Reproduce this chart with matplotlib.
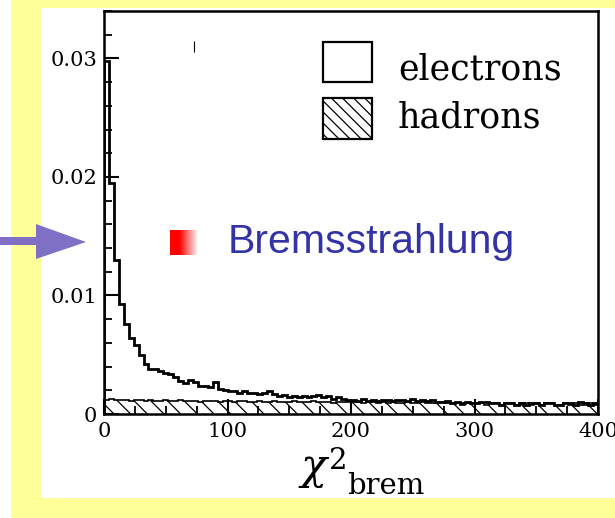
import matplotlib
matplotlib.use('Agg')
import matplotlib.pyplot as plt
import numpy as np
from matplotlib.patches import Rectangle, Polygon

# histogram binning (chi2_brem from 0 to 400, 100 bins)
edges = np.linspace(0, 400, 101)

# electrons (open histogram)
electrons = [0.0298, 0.0195, 0.0130, 0.0093, 0.0076, 0.0064, 0.0058, 0.0050, 0.0042, 0.0038,
             0.0038, 0.0036, 0.0035, 0.0034, 0.0031, 0.0028, 0.0026, 0.0029, 0.0027, 0.0024,
             0.0024, 0.0023, 0.0027, 0.0021, 0.0020, 0.0019, 0.0019, 0.0018, 0.0019, 0.0018,
             0.0018, 0.0017, 0.0018, 0.0019, 0.0017, 0.0015, 0.0016, 0.0014, 0.0015, 0.0014,
             0.0015, 0.0014, 0.0015, 0.0016, 0.0014, 0.0015, 0.0013, 0.0014, 0.0013, 0.0012,
             0.0012, 0.0011, 0.0013, 0.0011, 0.0012, 0.0011, 0.0012, 0.0012, 0.0011, 0.0012,
             0.0012, 0.0011, 0.0013, 0.0011, 0.0012, 0.0011, 0.0012, 0.0010, 0.0010, 0.0011,
             0.0009, 0.0010, 0.0009, 0.0010, 0.0009, 0.0009, 0.0010, 0.0010, 0.0009, 0.0009,
             0.0008, 0.0009, 0.0009, 0.0008, 0.0009, 0.0008, 0.0009, 0.0009, 0.0008, 0.0009,
             0.0009, 0.0008, 0.0008, 0.0009, 0.0009, 0.0008, 0.0010, 0.0009, 0.0008, 0.0009]

# hadrons (hatched histogram)
hadrons = [0.0012, 0.0013, 0.0012, 0.0012, 0.0012, 0.0011, 0.0012, 0.0012, 0.0011, 0.0012,
           0.0011, 0.0011, 0.0012, 0.0011, 0.0011, 0.0012, 0.0011, 0.0011, 0.0011, 0.0010,
           0.0011, 0.0011, 0.0011, 0.0010, 0.0011, 0.0011, 0.0010, 0.0011, 0.0011, 0.0010,
           0.0010, 0.0011, 0.0010, 0.0010, 0.0011, 0.0010, 0.0010, 0.0010, 0.0011, 0.0010,
           0.0010, 0.0010, 0.0011, 0.0010, 0.0010, 0.0010, 0.0009, 0.0010, 0.0010, 0.0010,
           0.0010, 0.0010, 0.0009, 0.0010, 0.0010, 0.0009, 0.0010, 0.0009, 0.0010, 0.0009,
           0.0009, 0.0010, 0.0009, 0.0009, 0.0010, 0.0009, 0.0009, 0.0009, 0.0010, 0.0009,
           0.0009, 0.0009, 0.0008, 0.0009, 0.0009, 0.0009, 0.0009, 0.0008, 0.0009, 0.0009,
           0.0008, 0.0009, 0.0009, 0.0008, 0.0009, 0.0009, 0.0008, 0.0009, 0.0008, 0.0009,
           0.0009, 0.0008, 0.0008, 0.0009, 0.0008, 0.0009, 0.0008, 0.0008, 0.0009, 0.0008]

xticks = [0, 100, 200, 300, 400]
yticks = [0, 0.01, 0.02, 0.03]
ytick_labels = ['0', '0.01', '0.02', '0.03']
legend_labels = ['electrons', 'hadrons']
note = 'Bremsstrahlung'

W, H = 615, 518


def fx(x):
    return x / W


def fy(y):
    return 1 - y / H


plt.rcParams['hatch.linewidth'] = 0.9
plt.rcParams['mathtext.fontset'] = 'dejavuserif'

fig = plt.figure(figsize=(W / 100, H / 100), dpi=100, facecolor='#FFFF99')

# slide background: white strip on the left, white panel for the plot
fig.patches.append(Rectangle((0, 0), fx(11), 1, transform=fig.transFigure,
                             facecolor='white', edgecolor='none', zorder=-2))
fig.patches.append(Rectangle((fx(41), fy(498)), 1 - fx(41), (498 - 8) / H,
                             transform=fig.transFigure, facecolor='white',
                             edgecolor='none', zorder=-2))

ax = fig.add_axes([fx(104), fy(414), (598 - 104) / W, (414 - 11) / H])
ax.set_facecolor('white')
ax.set_zorder(1)

ax.stairs(hadrons, edges, fill=True, facecolor='white', edgecolor='black',
          hatch='\\\\', linewidth=1.2)
ax.stairs(electrons, edges, color='black', linewidth=2.0)

# small stray mark on the original
ax.vlines(72.9, 0.0305, 0.0315, color='black', linewidth=0.8)

ax.set_xlim(0, 400)
ax.set_ylim(0, 0.034)
ax.set_xticks(xticks)
ax.set_xticks(np.arange(0, 401, 25), minor=True)
ax.set_yticks(yticks)
ax.set_yticklabels(ytick_labels)
ax.set_yticks(np.arange(0, 0.0341, 0.002), minor=True)
ax.tick_params(which='both', direction='in', top=False, right=False,
               labelsize=15)
ax.tick_params(which='major', length=11, width=1.5)
ax.tick_params(which='minor', length=6, width=1.3)
ax.tick_params(axis='x', pad=6)
ax.tick_params(axis='y', pad=5)
for lab in ax.get_xticklabels() + ax.get_yticklabels():
    lab.set_family('DejaVu Serif')
for s in ax.spines.values():
    s.set_linewidth(1.8)

# legend drawn by hand
fig.patches.append(Rectangle((fx(323), fy(82)), 49 / W, 40 / H, transform=fig.transFigure,
                             facecolor='white', edgecolor='black', linewidth=1.6, zorder=5))
fig.patches.append(Rectangle((fx(323), fy(139)), 49 / W, 41 / H, transform=fig.transFigure,
                             facecolor='white', edgecolor='black', linewidth=1.6,
                             hatch='\\\\\\', zorder=5))
fig.text(fx(398), fy(79), legend_labels[0], family='DejaVu Serif', fontsize=25,
         va='baseline', ha='left', zorder=6)
fig.text(fx(398), fy(127), legend_labels[1], family='DejaVu Serif', fontsize=25,
         va='baseline', ha='left', zorder=6)

# axis title chi^2_brem
fig.text(fx(298), fy(479), r'$\chi$', fontsize=31, va='baseline', ha='left')
fig.text(fx(329), fy(469), '2', family='DejaVu Serif', fontsize=21, va='baseline', ha='left')
fig.text(fx(347), fy(494), 'brem', family='DejaVu Serif', fontsize=21, va='baseline', ha='left')

# Bremsstrahlung note with red bullet
fig.text(fx(228), fy(253), note, family='Liberation Sans', fontsize=29.5,
         color='#3333A6', va='baseline', ha='left', zorder=6)
bul = fig.add_axes([fx(170), fy(255), 27 / W, 25 / H])
bul.set_zorder(3)
grad = np.ones((1, 64, 3))
t = np.clip((np.linspace(0, 1, 64) - 0.35) / 0.65, 0, 1)
grad[0, :, 1] = t * 0.92
grad[0, :, 2] = t * 0.92
bul.imshow(grad, aspect='auto', interpolation='bilinear')
bul.axis('off')

# purple arrow on the left
fig.patches.append(Polygon([(fx(0), fy(237)), (fx(36), fy(237)), (fx(36), fy(224)),
                            (fx(86), fy(242)), (fx(36), fy(259)), (fx(36), fy(245)),
                            (fx(0), fy(245))], closed=True, transform=fig.transFigure,
                           facecolor='#7F70C6', edgecolor='none', zorder=6))

fig.savefig('out.png', dpi=100, facecolor=fig.get_facecolor())
